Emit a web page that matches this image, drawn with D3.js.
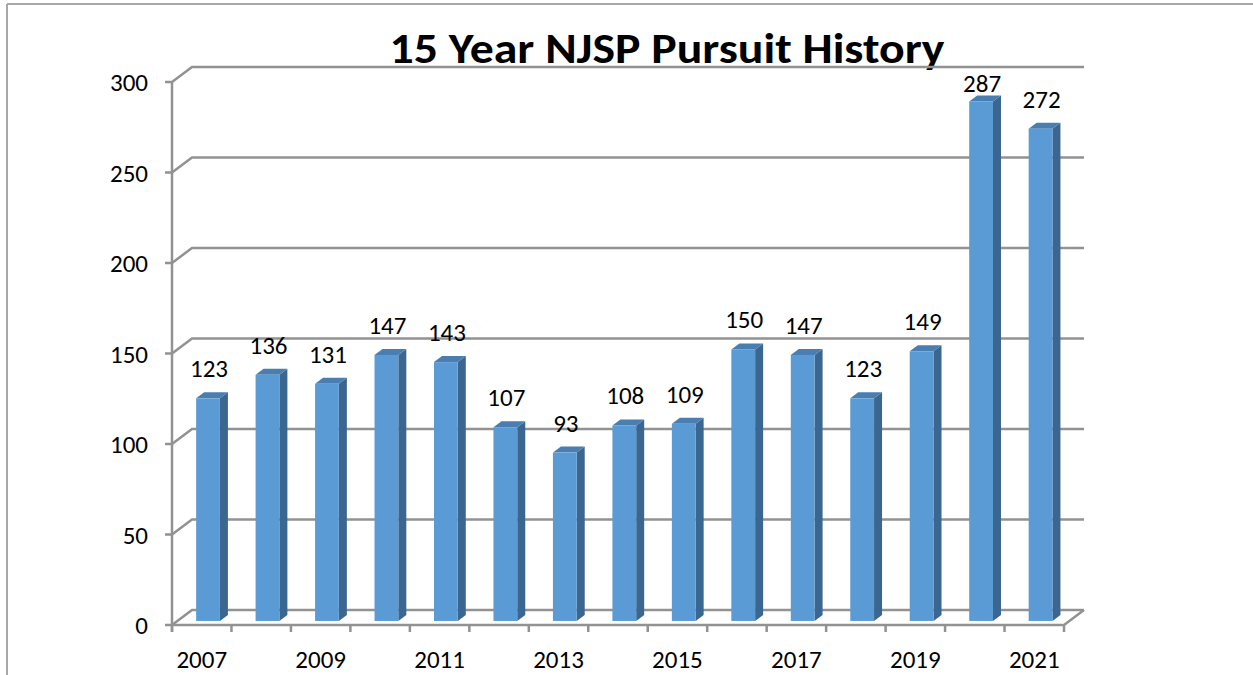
<!DOCTYPE html>
<html>
<head>
<meta charset="utf-8">
<script src="https://cdn.jsdelivr.net/npm/d3@7"></script>
<style>
  html, body { margin: 0; padding: 0; background: #fff; }
  svg { display: block; }
  text { font-family: Carlito, Lato, "Open Sans", sans-serif; fill: #000; }
</style>
</head>
<body>
<svg id="chart" width="1253" height="675"></svg>
<script>
const years = ["2007","2008","2009","2010","2011","2012","2013","2014","2015","2016","2017","2018","2019","2020","2021"];
const pursuits = [123,136,131,147,143,107,93,108,109,150,147,123,149,287,272];
const yTicks = [0,50,100,150,200,250,300];
const xTickLabels = ["2007","2009","2011","2013","2015","2017","2019","2021"];
const title = "15 Year NJSP Pursuit History";

const svg = d3.select("#chart");
const W = 1253, H = 675;

// 3D depth offsets (full depth of the plot box)
const DX = 20, DY = -15;
const x = d3.scaleBand().domain(years).range([172, 1064]).padding(0);
const y = d3.scaleLinear().domain([0, 300]).range([625, 82]);

const gridColor = "#929292";

// outer frame (left and top only)
svg.append("line").attr("x1", 7).attr("y1", 4).attr("x2", W).attr("y2", 4)
  .attr("stroke", "#a8a8a8").attr("stroke-width", 2);
svg.append("line").attr("x1", 7).attr("y1", 4).attr("x2", 7).attr("y2", H)
  .attr("stroke", "#a8a8a8").attr("stroke-width", 2);

// title
svg.append("text").attr("x", 667).attr("y", 63)
  .attr("text-anchor", "middle").attr("font-weight", "bold")
  .attr("font-size", 43)
  .attr("textLength", 555).attr("lengthAdjust", "spacingAndGlyphs")
  .text(title);

const x0 = x.range()[0], x1 = x.range()[1];

// back-wall gridlines + side-wall diagonals
const grid = svg.append("g");
yTicks.forEach(v => {
  const yf = y(v), yb = y(v) + DY;
  grid.append("path")
    .attr("d", `M${x0 - 7},${yf} L${x0},${yf} L${x0 + DX},${yb} L${x1 + DX},${yb}`)
    .attr("fill", "none").attr("stroke", gridColor).attr("stroke-width", 2.5);
});
// floor: front edge and right diagonal
grid.append("path")
  .attr("d", `M${x0},${y(0)} L${x1},${y(0)} L${x1 + DX},${y(0) + DY}`)
  .attr("fill", "none").attr("stroke", gridColor).attr("stroke-width", 2.5);
// front vertical axis
grid.append("line").attr("x1", x0).attr("x2", x0).attr("y1", y(300)).attr("y2", y(0) + 7)
  .attr("stroke", gridColor).attr("stroke-width", 2.5);
// x ticks at band boundaries
years.concat(["end"]).forEach((yr, i) => {
  const xx = x0 + i * x.bandwidth();
  grid.append("line").attr("x1", xx).attr("x2", xx).attr("y1", y(0)).attr("y2", y(0) + 7)
    .attr("stroke", gridColor).attr("stroke-width", 2.5);
});

// y labels
svg.append("g").selectAll("text").data(yTicks).join("text")
  .attr("x", 148).attr("y", d => y(d)).attr("dy", "0.36em")
  .attr("text-anchor", "end").attr("font-size", 25)
  .text(d => d);

// x labels
svg.append("g").selectAll("text").data(xTickLabels).join("text")
  .attr("x", d => x(d) + x.bandwidth() / 2).attr("y", 668)
  .attr("text-anchor", "middle").attr("font-size", 25)
  .text(d => d);

// bars (3D)
const dFront = 0.27, dDepth = 0.4;
const bw = x.bandwidth() * 0.4;
const bars = svg.append("g");
years.forEach((yr, i) => {
  const v = pursuits[i];
  const fx = x(yr) + x.bandwidth() * 0.315 + DX * dFront;
  const fyTop = y(v) + DY * dFront;
  const fyBot = y(0) + DY * dFront;
  const ox = DX * dDepth, oy = DY * dDepth;
  // right side
  bars.append("path")
    .attr("d", `M${fx + bw},${fyTop} L${fx + bw + ox},${fyTop + oy} L${fx + bw + ox},${fyBot + oy} L${fx + bw},${fyBot} Z`)
    .attr("fill", "#3b6690");
  // top
  bars.append("path")
    .attr("d", `M${fx},${fyTop} L${fx + ox},${fyTop + oy} L${fx + bw + ox},${fyTop + oy} L${fx + bw},${fyTop} Z`)
    .attr("fill", "#4a7db0");
  // front
  bars.append("rect")
    .attr("x", fx).attr("y", fyTop).attr("width", bw).attr("height", fyBot - fyTop)
    .attr("fill", "#5b9bd5");
  // data label
  bars.append("text")
    .attr("x", fx + bw / 2 + 1).attr("y", Math.max(fyTop - 21, 92))
    .attr("text-anchor", "middle").attr("font-size", 25)
    .text(v);
});
</script>
</body>
</html>
